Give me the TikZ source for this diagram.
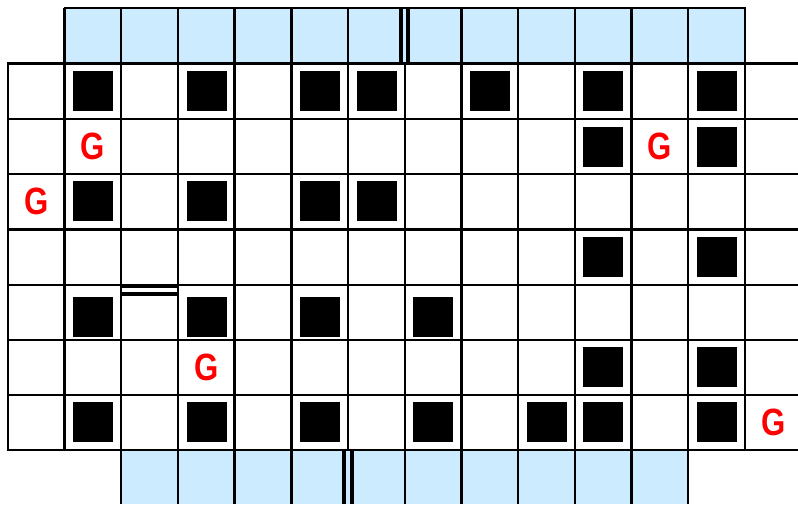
\documentclass[tikz,border=0pt]{standalone}
\usepackage{fontspec}
\setmainfont{Liberation Sans}
\definecolor{skyfill}{HTML}{CCEBFF}
\tikzset{
  gridline/.style={black,line width=2.1pt},
  doubleline/.style={black,line width=4pt},
  block/.style={fill=black,draw=none,minimum size=40pt,inner sep=0pt,outer sep=0pt,rectangle},
  gmark/.style={text=red,font=\fontsize{38}{38}\bfseries,inner sep=0pt},
}
\newcommand{\gletter}{\scalebox{.82}[1]{G}}
\begin{document}
\begin{tikzpicture}[x=1pt,y=-1pt]
\useasboundingbox (0,0) rectangle (798,504);
\fill[white] (0,0) rectangle (798,504);
\fill[skyfill] (64.5,8) rectangle (745,63.5);
\fill[skyfill] (121,450) rectangle (688,504);
% horizontal lines
\draw[gridline] (63.5,8) -- (746,8);
\foreach \y in {63.5,119,174,229.5,285,340,395,450} \draw[gridline] (7,\y) -- (798,\y);
% top row verticals
\foreach \x in {64.5,121,178,234.5,291.5,348,461.5,518,575,631.5,688,745} \draw[gridline] (\x,8) -- (\x,63.5);
% main verticals
\foreach \x in {8,64.5,121,178,234.5,291.5,348,405,461.5,518,575,631.5,688,745} \draw[gridline] (\x,63.5) -- (\x,450);
% bottom row verticals
\foreach \x in {121,178,234.5,291.5,405,461.5,518,575,631.5,688} \draw[gridline] (\x,450) -- (\x,504);
% double walls
\foreach \x in {401,408} \draw[doubleline] (\x,8) -- (\x,63.5);
\foreach \x in {344,352} \draw[doubleline] (\x,450) -- (\x,504);
\foreach \y in {285.5,293.5} \draw[doubleline] (121,\y) -- (178,\y);
% black blocks
\foreach \n/\x/\y in {
 a1/93/91,a2/207/91,a3/320/91,a4/377/91,a5/490/91,a6/603/91,a7/717/91,
 b1/603/147,b2/717/147,
 c1/93/201,c2/207/201,c3/320/201,c4/377/201,
 d1/603/257,d2/717/257,
 e1/93/317,e2/207/317,e3/320/317,e4/433/317,
 f1/603/367,f2/717/367,
 g1/93/422,g2/207/422,g3/320/422,g4/433/422,g5/547/422,g6/603/422,g7/717/422}
  \node[block] (\n) at (\x,\y) {};
% G marks
\node[gmark] (g1) at (93,146) {\gletter};
\node[gmark] (g2) at (660,146) {\gletter};
\node[gmark] (g3) at (36.5,201) {\gletter};
\node[gmark] (g4) at (206.5,367) {\gletter};
\node[gmark] (g5) at (773.5,422) {\gletter};
\end{tikzpicture}
\end{document}
